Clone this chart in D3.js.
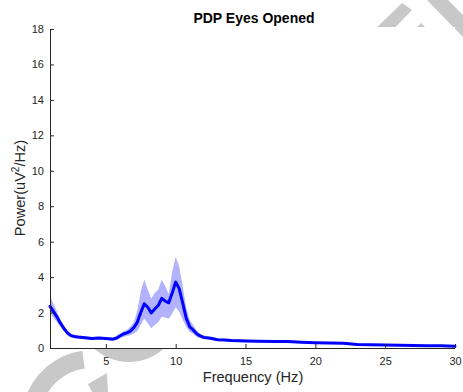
<!DOCTYPE html>
<html>
<head>
<meta charset="utf-8">
<script src="https://cdn.jsdelivr.net/npm/d3@7"></script>
<style>
  html, body { margin: 0; padding: 0; background: #fff; }
  svg { display: block; font-family: "Liberation Sans", Arial, Helvetica, sans-serif; }
</style>
</head>
<body>
<svg id="chart" width="463" height="392"></svg>
<script>
// ---- data ----
const freq = [1, 1.25, 1.5, 1.75, 2, 2.25, 2.5, 2.75, 3, 3.5, 4, 4.5, 5, 5.5, 5.75, 6, 6.25, 6.5, 6.75, 7,
  7.25, 7.5, 7.75, 8, 8.25, 8.5, 8.75, 9, 9.25, 9.5, 9.75, 10, 10.25, 10.5, 10.75, 11, 11.25, 11.5, 11.75, 12,
  12.5, 13, 13.5, 14, 15, 16, 17, 18, 19, 20, 21, 22, 23, 24, 25, 26, 27, 28, 29, 30];
const meanPower = [2.35, 2.05, 1.75, 1.4, 1.1, 0.85, 0.7, 0.65, 0.62, 0.58, 0.53, 0.56, 0.53, 0.5, 0.55, 0.68, 0.79, 0.85, 0.95, 1.15,
  1.45, 2.0, 2.5, 2.3, 1.98, 2.2, 2.4, 2.8, 2.65, 2.55, 3.1, 3.72, 3.35, 2.55, 1.7, 1.2, 1.02, 0.8, 0.68, 0.6,
  0.55, 0.47, 0.45, 0.42, 0.4, 0.38, 0.37, 0.36, 0.33, 0.3, 0.28, 0.27, 0.2, 0.18, 0.17, 0.16, 0.14, 0.13, 0.12, 0.1];
const upperPower = [2.9, 2.5, 2.05, 1.6, 1.25, 0.97, 0.8, 0.74, 0.7, 0.66, 0.61, 0.63, 0.6, 0.6, 0.68, 0.8, 0.93, 1.02, 1.2, 1.45,
  2.1, 3.2, 3.87, 3.3, 2.8, 3.1, 3.3, 3.85, 3.5, 3.05, 4.3, 5.15, 4.6, 3.5, 2.3, 1.6, 1.3, 1.0, 0.8, 0.7,
  0.64, 0.55, 0.52, 0.49, 0.46, 0.44, 0.43, 0.42, 0.38, 0.35, 0.33, 0.32, 0.25, 0.22, 0.21, 0.2, 0.18, 0.17, 0.16, 0.14];
const lowerPower = [2.0, 1.7, 1.45, 1.2, 0.95, 0.74, 0.6, 0.57, 0.54, 0.5, 0.46, 0.49, 0.46, 0.42, 0.45, 0.55, 0.62, 0.68, 0.72, 0.82,
  0.95, 1.3, 1.67, 1.4, 1.11, 1.3, 1.45, 1.77, 1.72, 1.65, 1.95, 2.3, 2.05, 1.6, 1.2, 0.9, 0.8, 0.62, 0.56, 0.5,
  0.46, 0.4, 0.39, 0.36, 0.34, 0.32, 0.31, 0.3, 0.28, 0.25, 0.23, 0.22, 0.15, 0.14, 0.13, 0.12, 0.1, 0.09, 0.08, 0.06];
const xTicks = [5, 10, 15, 20, 25, 30];
const yTicks = [0, 2, 4, 6, 8, 10, 12, 14, 16, 18];
const titleText = "PDP Eyes Opened";
const xLabel = "Frequency (Hz)";

(function () {
const rows = freq.map((f, i) => ({ f, m: meanPower[i], lo: lowerPower[i], hi: upperPower[i] }));

const svg = d3.select("#chart");
const pL = 50, pR = 455, pT = 29, pB = 348;

const x = d3.scaleLinear().domain([1, 30]).range([pL, pR]);
const y = d3.scaleLinear().domain([0, 18]).range([pB, pT]);

// ---- faint grey background watermark shapes ----
const wm = svg.append("g").attr("fill", "#c8c8c8");
wm.append("polygon").attr("points", "366,38 402,3 412,10 385,38");
wm.append("polygon").attr("points", "410,34 421,23 432,34");
wm.append("polygon").attr("points", "427,0 448,0 463,15 463,37");
wm.append("path")
  .attr("transform", "translate(92,420)")
  .attr("d", d3.arc().innerRadius(52).outerRadius(70).startAngle(-75 * Math.PI / 180).endAngle(-8 * Math.PI / 180)());
wm.append("polygon").attr("points", "88,384 107,373 108,392 92,392");
wm.append("circle").attr("cx", 129).attr("cy", 310).attr("r", 52);

// plot area (white, covers watermark)
svg.append("rect").attr("x", pL).attr("y", 27).attr("width", pR - pL).attr("height", pB - 27).attr("fill", "#fff");

// ---- band and mean line ----
const area = d3.area().x(d => x(d.f)).y0(d => y(d.lo)).y1(d => y(d.hi));
svg.append("path").datum(rows).attr("d", area)
  .attr("fill", "#0000ff").attr("fill-opacity", 0.3).attr("stroke", "none");

const line = d3.line().x(d => x(d.f)).y(d => y(d.m));
svg.append("path").datum(rows).attr("d", line)
  .attr("fill", "none").attr("stroke", "#0000ff").attr("stroke-width", 3)
  .attr("stroke-linejoin", "round").attr("stroke-linecap", "round");

// ---- axes ----
const axisColor = "#262626";
const xAxis = d3.axisBottom(x).tickValues(xTicks).tickSizeInner(-4).tickSizeOuter(0).tickPadding(9).tickFormat(d3.format("d"));
const gx = svg.append("g").attr("transform", `translate(0,${pB})`).call(xAxis);
gx.select(".domain").attr("stroke", axisColor).attr("d", `M${pL},0.5H${pR}`);
gx.selectAll(".tick line").attr("stroke", axisColor);
gx.selectAll(".tick text").attr("fill", axisColor).attr("font-size", 11).attr("font-family", "Liberation Sans, Arial, sans-serif");

const yAxis = d3.axisLeft(y).tickValues(yTicks).tickSizeInner(-4).tickSizeOuter(0).tickPadding(6).tickFormat(d3.format("d"));
const gy = svg.append("g").attr("transform", `translate(${pL},0)`).call(yAxis);
gy.select(".domain").attr("stroke", axisColor).attr("d", `M0.5,${pT}V${pB}`);
gy.selectAll(".tick line").attr("stroke", axisColor);
gy.selectAll(".tick text").attr("fill", axisColor).attr("font-size", 11).attr("font-family", "Liberation Sans, Arial, sans-serif");

// ---- labels ----
svg.append("text").attr("x", 254).attr("y", 23).attr("text-anchor", "middle")
  .attr("font-size", 14).attr("font-weight", "bold").attr("fill", "#000").text(titleText);

svg.append("text").attr("x", 253).attr("y", 382).attr("text-anchor", "middle")
  .attr("font-size", 14.6).attr("fill", axisColor).text(xLabel);

const yl = svg.append("text").attr("transform", "translate(25,188) rotate(-90)").attr("text-anchor", "middle")
  .attr("font-size", 14.6).attr("fill", axisColor);
yl.append("tspan").text("Power(uV");
yl.append("tspan").attr("font-size", 10).attr("dy", -6).text("2");
yl.append("tspan").attr("dy", 6).text("/Hz)");
})();
</script>
</body>
</html>
